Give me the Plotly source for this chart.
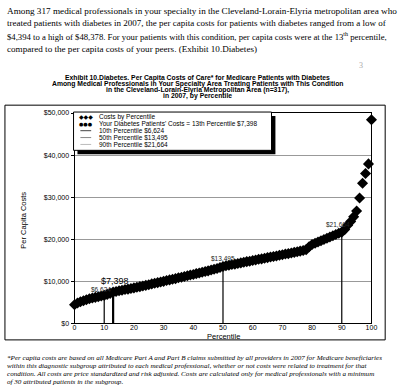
import plotly.graph_objects as go

W, H = 400, 392

# ---- data ----
percentiles = list(range(0, 101))
costs = [4394, 4800, 5100, 5350, 5600, 5800, 6000, 6150, 6300, 6450,
         6624, 6850, 7100, 7398, 7550, 7700, 7850, 8000, 8100, 8250,
         8400, 8550, 8700, 8850, 9000, 9150, 9350, 9500, 9650, 9800,
         9950, 10150, 10300, 10450, 10600, 10800, 10950, 11100, 11300, 11450,
         11600, 11800, 11950, 12100, 12300, 12450, 12650, 12850, 13000, 13250,
         13495, 13650, 13800, 13950, 14050, 14200, 14350, 14500, 14650, 14750,
         14900, 15050, 15200, 15300, 15450, 15600, 15750, 15850, 16000, 16150,
         16300, 16450, 16550, 16700, 16850, 17000, 17150, 17300, 17500, 18200,
         18700, 19000, 19300, 19600, 19900, 20200, 20500, 20800, 21100, 21400,
         21664, 22300, 23300, 24200, 25300, 26700, 29800, 33300, 35600, 37900,
         48378]
your_pct = 13
your_cost = 7398
ref_pcts = [10, 50, 90]
ref_costs = [6624, 13495, 21664]
ref_labels = ["$6,624", "$13,495", "$21,664"]
x_ticks = [0, 10, 20, 30, 40, 50, 60, 70, 80, 90, 100]
y_ticks = [0, 10000, 20000, 30000, 40000, 50000]
y_tick_text = ["$0", "$10,000", "$20,000", "$30,000", "$40,000", "$50,000"]


def px(x):
    return x / W


def py(y):
    return 1 - y / H


fig = go.Figure()

# reference percentile lines
for p, c in zip(ref_pcts, ref_costs):
    fig.add_trace(go.Scatter(x=[p, p], y=[0, c], mode="lines",
                             line=dict(color="black", width=1.2),
                             showlegend=False, hoverinfo="skip"))
fig.add_trace(go.Scatter(x=[your_pct, your_pct], y=[0, your_cost], mode="lines",
                         line=dict(color="black", width=2.2),
                         showlegend=False, hoverinfo="skip"))

# costs by percentile
fig.add_trace(go.Scatter(x=percentiles, y=costs, mode="markers",
                         marker=dict(symbol="diamond", size=8.5, color="black"),
                         cliponaxis=False, showlegend=False))
fig.add_trace(go.Scatter(x=[your_pct], y=[your_cost], mode="markers",
                         marker=dict(symbol="circle", size=6, color="black"),
                         showlegend=False))

# value labels
fig.add_annotation(x=your_pct, y=your_cost, xref="x", yref="y", text="$7,398",
                   showarrow=False, yshift=11, xshift=2,
                   font=dict(family="Liberation Sans, Arial", size=9, color="black"))
offs = [(-3, 6), (0, 8), (-4, 8)]
for p, c, t, (dx, dy) in zip(ref_pcts, ref_costs, ref_labels, offs):
    fig.add_annotation(x=p, y=c, xref="x", yref="y", text=t, showarrow=False,
                       xshift=dx, yshift=dy,
                       font=dict(family="Liberation Sans, Arial", size=6.5, color="#222"))

fig.update_xaxes(domain=[px(74), px(377)], range=[0, 100], tickvals=x_ticks,
                 showgrid=False, zeroline=False, showline=True, linecolor="black",
                 linewidth=1, mirror=True, ticks="", ticklen=0, ticklabelstandoff=-3,
                 tickfont=dict(family="Liberation Sans, Arial", size=7, color="black"))
fig.update_yaxes(domain=[py(325), py(111)], range=[0, 50000], tickvals=y_ticks,
                 ticktext=y_tick_text, showgrid=True, gridcolor="#999", gridwidth=1,
                 zeroline=False, showline=True, linecolor="black", linewidth=1,
                 mirror=True, ticks="outside", ticklen=3, tickcolor="black",
                 tickfont=dict(family="Liberation Sans, Arial", size=7, color="black"))

shapes = []
# outer chart frame
shapes.append(dict(type="rect", xref="paper", yref="paper", x0=px(3), x1=px(391),
                   y0=py(342), y1=py(103), line=dict(color="black", width=1)))
# legend shadow + box
shapes.append(dict(type="rect", xref="paper", yref="paper", x0=px(77), x1=px(279),
                   y0=py(153), y1=py(114), fillcolor="black", line=dict(width=0)))
shapes.append(dict(type="rect", xref="paper", yref="paper", x0=px(73), x1=px(275),
                   y0=py(149), y1=py(110), fillcolor="white",
                   line=dict(color="black", width=1)))
leg_line_colors = ["#444", "#888", "#bbb"]
for i, col in enumerate(leg_line_colors):
    yy = 129 + 7 * i
    shapes.append(dict(type="line", xref="paper", yref="paper", x0=px(80), x1=px(91),
                       y0=py(yy), y1=py(yy), line=dict(color=col, width=1)))
fig.update_layout(shapes=shapes)

ann = []
leg_texts = ["Costs by Percentile",
             "Your Diabetes Patients' Costs = 13th Percentile $7,398",
             "10th Percentile $6,624",
             "50th Percentile $13,495",
             "90th Percentile $21,664"]
for i, t in enumerate(leg_texts):
    ann.append(dict(x=px(97), y=py(115 + 7 * i), text=t, xanchor="left", yanchor="middle",
                    font=dict(family="Liberation Sans, Arial", size=6.5, color="black")))
ann.append(dict(x=px(85.5), y=py(115), text="◆◆◆", xanchor="center", yanchor="middle",
                font=dict(family="DejaVu Sans", size=6, color="black")))
ann.append(dict(x=px(85.5), y=py(122), text="●●●", xanchor="center", yanchor="middle",
                font=dict(family="DejaVu Sans", size=5, color="black")))

# top paragraph
para = ["Among 317 medical professionals in your specialty in the Cleveland-Lorain-Elyria metropolitan area who",
        "treated patients with diabetes in 2007, the per capita costs for patients with diabetes ranged from a low of",
        "$4,394 to a high of $48,378. For your patients with this condition, per capita costs were at the 13<sup>th</sup> percentile,",
        "compared to the per capita costs of your peers. (Exhibit 10.Diabetes)"]
para_sizes = [9.2, 9.0, 8.7, 9.1]
for i, (t, s) in enumerate(zip(para, para_sizes)):
    ann.append(dict(x=px(3), y=py(7 + 12.8 * i), text=t, xanchor="left", yanchor="middle",
                    font=dict(family="Liberation Serif, Times New Roman", size=s, color="black")))

title = ["Exhibit 10.Diabetes. Per Capita Costs of Care* for Medicare Patients with Diabetes",
         "Among Medical Professionals in Your Specialty Area Treating Patients with This Condition",
         "in the Cleveland-Lorain-Elyria Metropolitan Area (n=317),",
         "in 2007, by Percentile"]
for i, t in enumerate(title):
    ann.append(dict(x=px(199), y=py(75.5 + 6.1 * i), text="<b>" + t + "</b>",
                    xanchor="center", yanchor="middle",
                    font=dict(family="Liberation Sans, Arial", size=6.8, color="black")))

foot = ["*Per capita costs are based on all Medicare Part A and Part B claims submitted by all providers in 2007 for Medicare beneficiaries",
        "within this diagnostic subgroup attributed to each medical professional, whether or not costs were related to treatment for that",
        "condition. All costs are price standardized and risk adjusted. Costs are calculated only for medical professionals with a minimum",
        "of 30 attributed patients in the subgroup."]
for i, t in enumerate(foot):
    ann.append(dict(x=px(3), y=py(360 + 8.4 * i), text="<i>" + t + "</i>",
                    xanchor="left", yanchor="middle",
                    font=dict(family="Liberation Serif, Times New Roman", size=7.1, color="black")))

ann.append(dict(x=px(22), y=py(220), text="Per Capita Costs", textangle=-90,
                xanchor="center", yanchor="middle",
                font=dict(family="Liberation Sans, Arial", size=7.5, color="black")))
ann.append(dict(x=px(226), y=py(339), text="Percentile", xanchor="center", yanchor="middle",
                font=dict(family="Liberation Sans, Arial", size=7.5, color="black")))
ann.append(dict(x=px(366), y=py(63), text="3", xanchor="center", yanchor="middle",
                font=dict(family="Liberation Serif", size=8, color="#aaa")))

for a in ann:
    a.update(xref="paper", yref="paper", showarrow=False)
fig.update_layout(annotations=list(fig.layout.annotations) + ann)

fig.update_layout(width=W, height=H, margin=dict(l=0, r=0, t=0, b=0),
                  paper_bgcolor="white", plot_bgcolor="white", showlegend=False)

fig.write_html("out.html", config={"displayModeBar": False},
               post_script="document.body.style.margin='0';")
